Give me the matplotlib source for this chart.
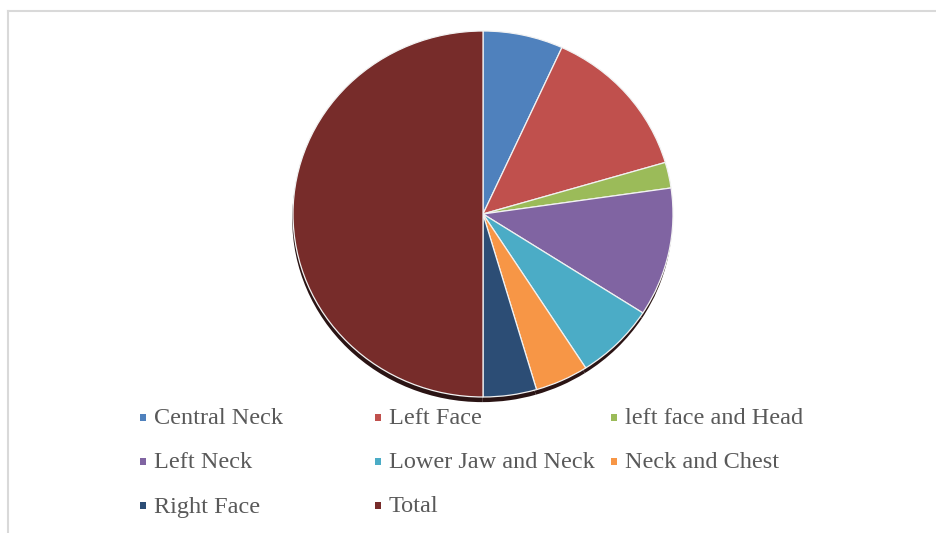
import matplotlib.pyplot as plt
import matplotlib.patches as mpatches
from matplotlib.lines import Line2D

# ------------------------------------------------------------
# Datos
# ------------------------------------------------------------
categorias = ["Central Neck", "Left Face", "left face and Head", "Left Neck",
              "Lower Jaw and Neck", "Neck and Chest", "Right Face", "Total"]
valores = [3, 6, 1, 5, 3, 2, 2, 22]
colores = ["#4F81BD", "#C0504D", "#9BBB59", "#8064A2",
           "#4BACC6", "#F79646", "#2C4D75", "#772C2A"]

W, H = 936, 533
fig = plt.figure(figsize=(W / 100, H / 100), dpi=100, facecolor="white")

# marco gris (solo borde superior e izquierdo visibles)
fig.add_artist(Line2D([8 / W, 8 / W], [0, 1 - 11 / H], color="#D9D9D9", lw=1.5))
fig.add_artist(Line2D([8 / W, 935 / W], [1 - 11 / H, 1 - 11 / H], color="#D9D9D9", lw=1.5))

# ------------------------------------------------------------
# Pastel (ligeramente achatado, como el 3D de Excel)
# ------------------------------------------------------------
cx, cy, rx, ry = 483, 214, 190, 183
ax = fig.add_axes([(cx - rx) / W, (H - cy - ry) / H, 2 * rx / W, 2 * ry / H])

# sombra
ax.pie(valores, startangle=90, counterclock=False,
       colors=["#2a1414"] * len(valores), center=(-0.004, -0.028),
       wedgeprops=dict(linewidth=0))
ax.pie(valores, startangle=90, counterclock=False, colors=colores,
       wedgeprops=dict(edgecolor="#f2f2f2", linewidth=0.9))
ax.set_aspect("auto")
ax.set_xlim(-1, 1)
ax.set_ylim(-1, 1)
ax.axis("off")

# ------------------------------------------------------------
# Leyenda (3 columnas, orden por filas)
# ------------------------------------------------------------
col_x = [143, 378, 614]
fila_y = [417, 461, 505]
for i, (nombre, color) in enumerate(zip(categorias, colores)):
    x = col_x[i % 3]
    y = fila_y[i // 3]
    fig.add_artist(mpatches.Rectangle(((x - 3) / W, 1 - (y + 4) / H), 6 / W, 7 / H,
                                      transform=fig.transFigure, color=color, lw=0))
    fig.text((x + 11) / W, 1 - (y + 2) / H, nombre, ha="left", va="center",
             fontsize=17.5, color="#595959", family="Liberation Serif")

plt.savefig("out.png", dpi=100, facecolor="white")
